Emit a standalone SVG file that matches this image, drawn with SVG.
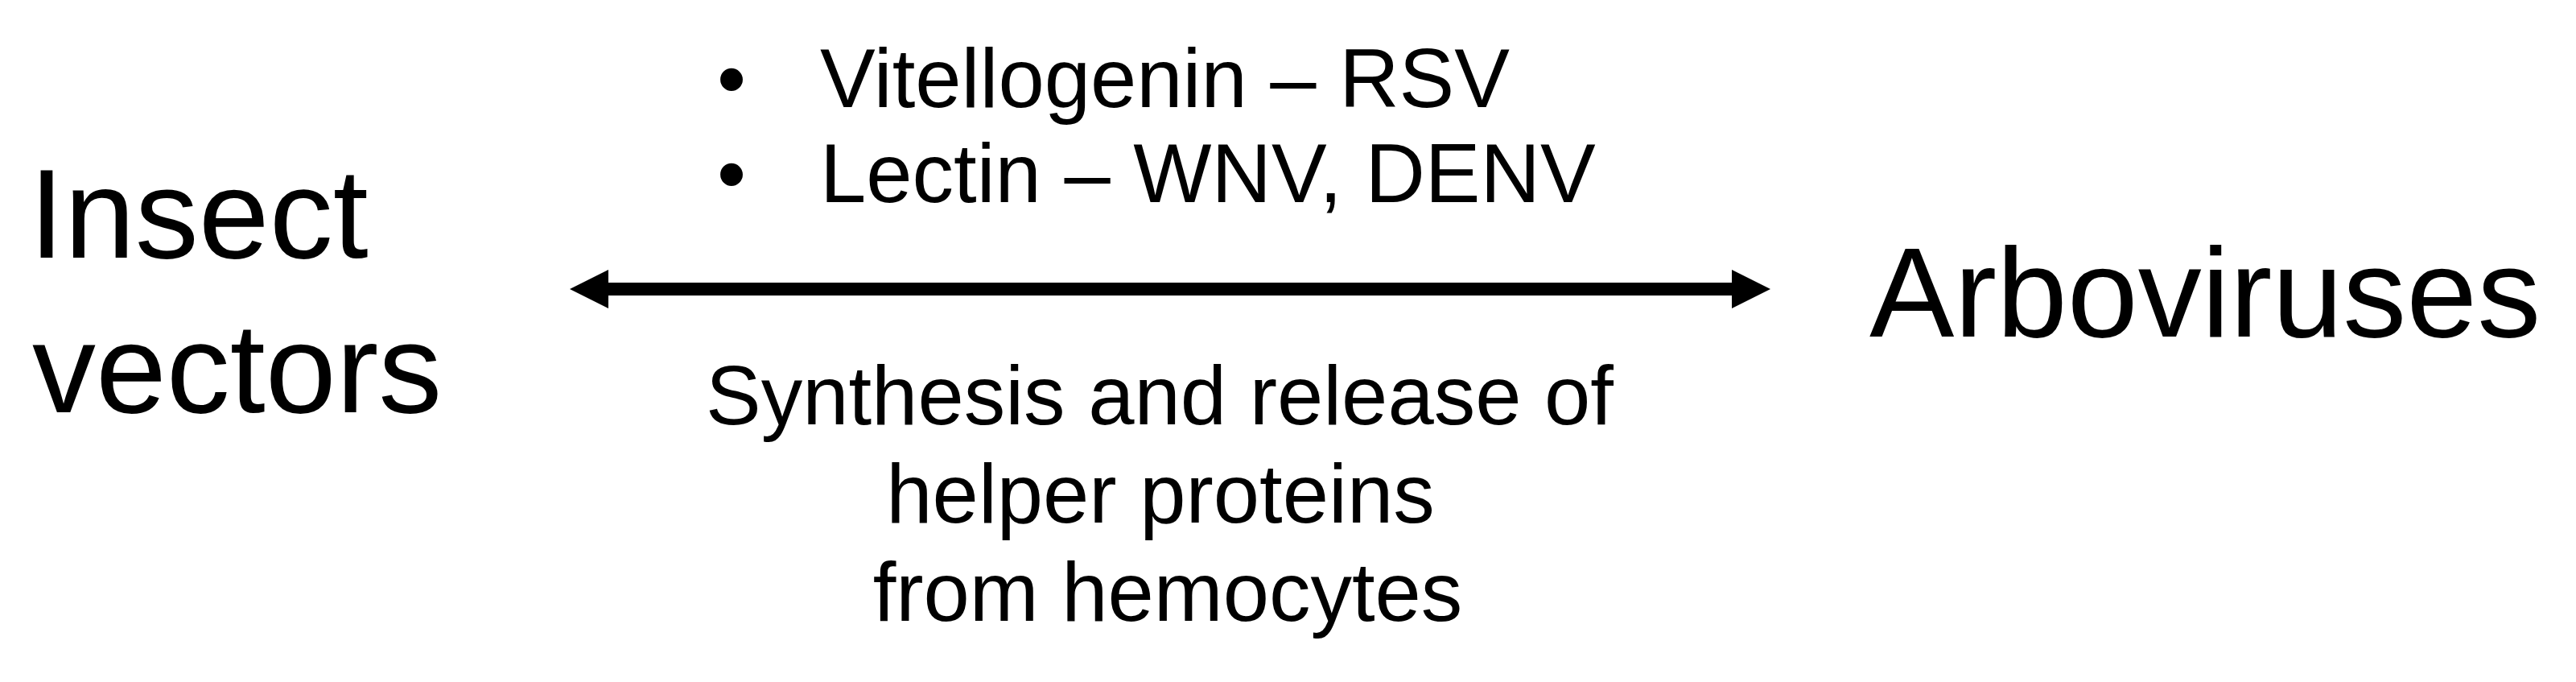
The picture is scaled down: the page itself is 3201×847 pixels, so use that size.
<svg xmlns="http://www.w3.org/2000/svg" width="3201" height="847" viewBox="0 0 3201 847">
<style>
.big{font-family:"Liberation Sans",Arial,sans-serif;font-size:158px;fill:#000}
.mid{font-family:"Liberation Sans",Arial,sans-serif;font-size:103px;fill:#000}
.conn{stroke:#000;stroke-width:16;fill:none}
</style>
<defs>
<marker id="ah" markerUnits="userSpaceOnUse" markerWidth="48" markerHeight="48" refX="16" refY="24" orient="auto-start-reverse" viewBox="0 0 48 48">
<path d="M0,0 L48,24 L0,48 z" fill="#000"/>
</marker>
</defs>
<rect width="3201" height="847" fill="#fff"/>
<g id="insect-vectors">
<text class="big" x="36" y="320">Insect</text>
<text class="big" x="40" y="512">vectors</text>
</g>
<g id="arboviruses">
<text class="big" x="2323" y="418">Arboviruses</text>
</g>
<g id="helpers">
<text class="mid" x="909" y="133" text-anchor="middle">•</text>
<text class="mid" x="1019" y="133">Vitellogenin – RSV</text>
<text class="mid" x="909" y="251" text-anchor="middle">•</text>
<text class="mid" x="1019" y="251">Lectin – WNV, DENV</text>
</g>
<g id="synthesis">
<text class="mid" x="1441" y="527" text-anchor="middle">Synthesis and release of</text>
<text class="mid" x="1442" y="649" text-anchor="middle">helper proteins</text>
<text class="mid" x="1451" y="771" text-anchor="middle">from hemocytes</text>
</g>
<g id="connectors">
<line class="conn" x1="740" y1="359" x2="2168" y2="359" marker-start="url(#ah)" marker-end="url(#ah)"/>
</g>
</svg>
